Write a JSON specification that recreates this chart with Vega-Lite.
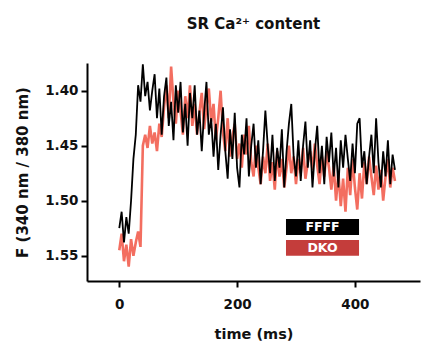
{
  "$schema": "https://vega.github.io/schema/vega-lite/v6.json",
  "width": 333,
  "height": 218,
  "autosize": "none",
  "padding": {"left": 87, "top": 63, "right": 2, "bottom": 64},
  "background": "white",
  "title": {"text": "SR Ca²⁺ content", "font": "DejaVu Sans", "fontSize": 15, "fontWeight": "bold", "color": "#111", "anchor": "middle", "offset": 31},
  "config": {
    "view": {"stroke": null},
    "axis": {"grid": false, "domainColor": "#000", "domainWidth": 2, "tickColor": "#000", "tickWidth": 2, "tickSize": 6, "labelFont": "DejaVu Sans", "labelFontWeight": "bold", "labelFontSize": 13.5, "labelColor": "#111", "titleFont": "DejaVu Sans", "titleFontWeight": "bold", "titleColor": "#111"}
  },
  "datasets": {
    "ffff": [
      {"t":0,"v":1.525},{"t":4,"v":1.510},{"t":8,"v":1.538},{"t":12,"v":1.515},{"t":16,"v":1.530},{"t":20,"v":1.500},{"t":24,"v":1.462},{"t":28,"v":1.440},{"t":32,"v":1.395},{"t":36,"v":1.410},
      {"t":40,"v":1.376},{"t":44,"v":1.405},{"t":48,"v":1.392},{"t":52,"v":1.418},{"t":56,"v":1.400},{"t":60,"v":1.385},{"t":64,"v":1.425},{"t":68,"v":1.398},{"t":72,"v":1.440},{"t":76,"v":1.405},
      {"t":80,"v":1.388},{"t":84,"v":1.432},{"t":88,"v":1.410},{"t":92,"v":1.445},{"t":96,"v":1.395},{"t":100,"v":1.420},{"t":104,"v":1.392},{"t":108,"v":1.438},{"t":112,"v":1.412},{"t":116,"v":1.450},
      {"t":120,"v":1.402},{"t":124,"v":1.425},{"t":128,"v":1.395},{"t":132,"v":1.440},{"t":136,"v":1.418},{"t":140,"v":1.455},{"t":144,"v":1.420},{"t":148,"v":1.392},{"t":152,"v":1.440},{"t":156,"v":1.425},
      {"t":160,"v":1.460},{"t":164,"v":1.430},{"t":168,"v":1.472},{"t":172,"v":1.440},{"t":176,"v":1.415},{"t":180,"v":1.455},{"t":184,"v":1.480},{"t":188,"v":1.435},{"t":192,"v":1.462},{"t":196,"v":1.420},
      {"t":200,"v":1.470},{"t":204,"v":1.488},{"t":208,"v":1.440},{"t":212,"v":1.458},{"t":216,"v":1.425},{"t":220,"v":1.478},{"t":224,"v":1.450},{"t":228,"v":1.430},{"t":232,"v":1.470},{"t":236,"v":1.445},
      {"t":240,"v":1.485},{"t":244,"v":1.455},{"t":248,"v":1.418},{"t":252,"v":1.450},{"t":256,"v":1.475},{"t":260,"v":1.440},{"t":264,"v":1.482},{"t":268,"v":1.452},{"t":272,"v":1.470},{"t":276,"v":1.435},
      {"t":280,"v":1.488},{"t":284,"v":1.455},{"t":288,"v":1.430},{"t":292,"v":1.412},{"t":296,"v":1.460},{"t":300,"v":1.478},{"t":304,"v":1.445},{"t":308,"v":1.482},{"t":312,"v":1.450},{"t":316,"v":1.428},
      {"t":320,"v":1.470},{"t":324,"v":1.445},{"t":328,"v":1.488},{"t":332,"v":1.455},{"t":336,"v":1.432},{"t":340,"v":1.475},{"t":344,"v":1.450},{"t":348,"v":1.485},{"t":352,"v":1.442},{"t":356,"v":1.465},
      {"t":360,"v":1.438},{"t":364,"v":1.478},{"t":368,"v":1.452},{"t":372,"v":1.488},{"t":376,"v":1.445},{"t":380,"v":1.470},{"t":384,"v":1.440},{"t":388,"v":1.462},{"t":392,"v":1.482},{"t":396,"v":1.448},
      {"t":400,"v":1.475},{"t":404,"v":1.430},{"t":408,"v":1.425},{"t":412,"v":1.470},{"t":416,"v":1.455},{"t":420,"v":1.485},{"t":424,"v":1.460},{"t":428,"v":1.440},{"t":432,"v":1.475},{"t":436,"v":1.425},
      {"t":440,"v":1.465},{"t":444,"v":1.488},{"t":448,"v":1.455},{"t":452,"v":1.478},{"t":456,"v":1.445},{"t":460,"v":1.485},{"t":464,"v":1.458},{"t":468,"v":1.472}
    ],
    "dko": [
      {"t":0,"v":1.545},{"t":4,"v":1.530},{"t":8,"v":1.555},{"t":12,"v":1.540},{"t":16,"v":1.560},{"t":20,"v":1.535},{"t":24,"v":1.550},{"t":28,"v":1.538},{"t":32,"v":1.528},{"t":36,"v":1.542},
      {"t":40,"v":1.450},{"t":44,"v":1.440},{"t":48,"v":1.452},{"t":52,"v":1.432},{"t":56,"v":1.448},{"t":60,"v":1.438},{"t":64,"v":1.455},{"t":68,"v":1.430},{"t":72,"v":1.442},{"t":76,"v":1.415},
      {"t":80,"v":1.395},{"t":84,"v":1.425},{"t":88,"v":1.378},{"t":92,"v":1.410},{"t":96,"v":1.430},{"t":100,"v":1.400},{"t":104,"v":1.418},{"t":108,"v":1.440},{"t":112,"v":1.405},{"t":116,"v":1.425},
      {"t":120,"v":1.395},{"t":124,"v":1.432},{"t":128,"v":1.412},{"t":132,"v":1.440},{"t":136,"v":1.420},{"t":140,"v":1.402},{"t":144,"v":1.435},{"t":148,"v":1.415},{"t":152,"v":1.398},{"t":156,"v":1.428},
      {"t":160,"v":1.412},{"t":164,"v":1.445},{"t":168,"v":1.425},{"t":172,"v":1.400},{"t":176,"v":1.438},{"t":180,"v":1.455},{"t":184,"v":1.425},{"t":188,"v":1.460},{"t":192,"v":1.442},{"t":196,"v":1.430},
      {"t":200,"v":1.462},{"t":204,"v":1.448},{"t":208,"v":1.470},{"t":212,"v":1.440},{"t":216,"v":1.458},{"t":220,"v":1.432},{"t":224,"v":1.465},{"t":228,"v":1.478},{"t":232,"v":1.450},{"t":236,"v":1.470},
      {"t":240,"v":1.485},{"t":244,"v":1.460},{"t":248,"v":1.475},{"t":252,"v":1.448},{"t":256,"v":1.482},{"t":260,"v":1.465},{"t":264,"v":1.490},{"t":268,"v":1.455},{"t":272,"v":1.478},{"t":276,"v":1.462},
      {"t":280,"v":1.488},{"t":284,"v":1.470},{"t":288,"v":1.450},{"t":292,"v":1.475},{"t":296,"v":1.460},{"t":300,"v":1.485},{"t":304,"v":1.462},{"t":308,"v":1.475},{"t":312,"v":1.452},{"t":316,"v":1.480},
      {"t":320,"v":1.465},{"t":324,"v":1.455},{"t":328,"v":1.472},{"t":332,"v":1.448},{"t":336,"v":1.468},{"t":340,"v":1.485},{"t":344,"v":1.460},{"t":348,"v":1.478},{"t":352,"v":1.455},{"t":356,"v":1.470},
      {"t":360,"v":1.490},{"t":364,"v":1.468},{"t":368,"v":1.500},{"t":372,"v":1.475},{"t":376,"v":1.505},{"t":380,"v":1.480},{"t":384,"v":1.510},{"t":388,"v":1.470},{"t":392,"v":1.495},{"t":396,"v":1.462},
      {"t":400,"v":1.488},{"t":404,"v":1.508},{"t":408,"v":1.475},{"t":412,"v":1.498},{"t":416,"v":1.465},{"t":420,"v":1.485},{"t":424,"v":1.460},{"t":428,"v":1.478},{"t":432,"v":1.495},{"t":436,"v":1.468},
      {"t":440,"v":1.490},{"t":444,"v":1.472},{"t":448,"v":1.500},{"t":452,"v":1.478},{"t":456,"v":1.462},{"t":460,"v":1.488},{"t":464,"v":1.470},{"t":468,"v":1.482}
    ]
  },
  "layer": [
    {
      "data": {"name": "dko"},
      "mark": {"type": "line", "color": "#ef3d2b", "strokeWidth": 2.6, "opacity": 0.75, "clip": true},
      "encoding": {
        "x": {"field": "t", "type": "quantitative", "scale": {"domain": [-54.8, 510.5], "nice": false, "zero": false}, "axis": {"values": [0, 200, 400], "title": "time (ms)", "titleFontSize": 14.5, "titlePadding": 17, "labelPadding": 10}},
        "y": {"field": "v", "type": "quantitative", "scale": {"domain": [1.3748, 1.573], "reverse": true, "nice": false, "zero": false}, "axis": {"values": [1.40, 1.45, 1.50, 1.55], "format": ".2f", "title": "F (340 nm / 380 nm)", "titleFontSize": 15, "titlePadding": 14, "labelPadding": 3}}
      }
    },
    {
      "data": {"name": "ffff"},
      "mark": {"type": "line", "color": "#000000", "strokeWidth": 1.8, "clip": true},
      "encoding": {
        "x": {"field": "t", "type": "quantitative"},
        "y": {"field": "v", "type": "quantitative"}
      }
    },
    {
      "data": {"values": [{"label": "FFFF"}]},
      "mark": {"type": "rect", "color": "#000000"},
      "encoding": {"x": {"datum": 283}, "x2": {"datum": 407}, "y": {"datum": 1.5166}, "y2": {"datum": 1.5312}}
    },
    {
      "data": {"values": [{"label": "DKO"}]},
      "mark": {"type": "rect", "color": "#c43d3b"},
      "encoding": {"x": {"datum": 283}, "x2": {"datum": 407}, "y": {"datum": 1.5357}, "y2": {"datum": 1.5500}}
    },
    {
      "data": {"values": [{"label": "FFFF"}]},
      "mark": {"type": "text", "color": "#ffffff", "font": "DejaVu Sans", "fontWeight": "bold", "fontSize": 12.5, "baseline": "middle", "align": "center"},
      "encoding": {"x": {"datum": 345}, "y": {"datum": 1.5239}, "text": {"field": "label"}}
    },
    {
      "data": {"values": [{"label": "DKO"}]},
      "mark": {"type": "text", "color": "#ffffff", "font": "DejaVu Sans", "fontWeight": "bold", "fontSize": 12.5, "baseline": "middle", "align": "center"},
      "encoding": {"x": {"datum": 345}, "y": {"datum": 1.5428}, "text": {"field": "label"}}
    }
  ]
}
